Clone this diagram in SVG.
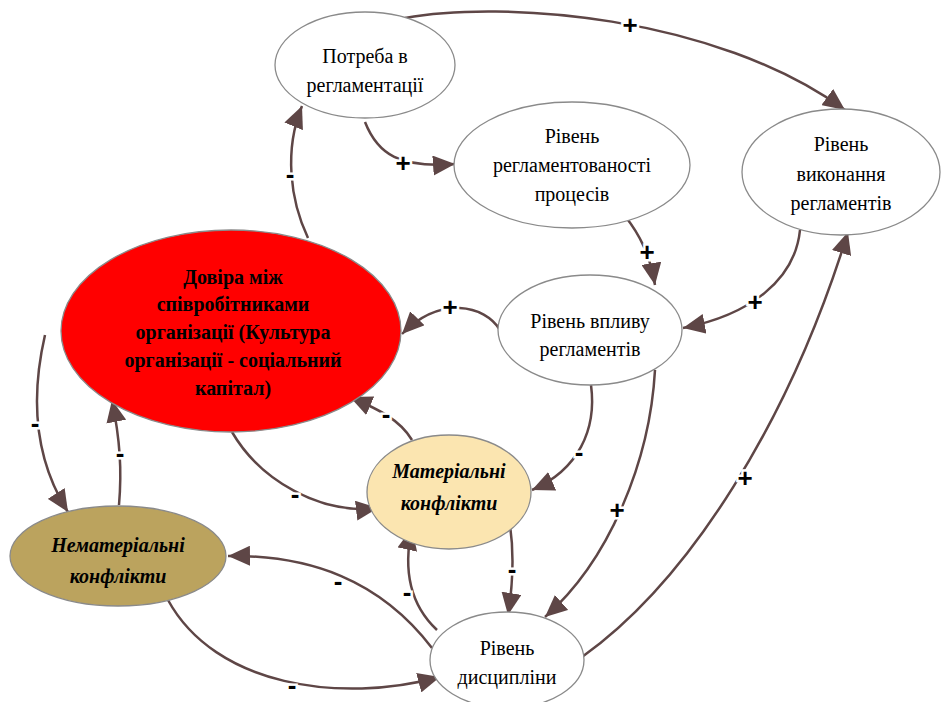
<svg xmlns="http://www.w3.org/2000/svg" width="942" height="702" viewBox="0 0 942 702">
  <defs>
    <marker id="arrow" markerUnits="userSpaceOnUse" markerWidth="24" markerHeight="20" refX="22" refY="10" orient="auto">
      <path d="M0,0 L22,10 L0,20 z" fill="#5e4646"/>
    </marker>
    <style>
      .node { stroke: #8a8a8a; stroke-width: 1.3; }
      .t { font-family: "Liberation Serif", "Times New Roman", serif; font-size: 20px; fill: #000; text-anchor: middle; }
      .tb { font-weight: bold; }
      .tbi { font-weight: bold; font-style: italic; }
      .edge { fill: none; stroke: #5e4646; stroke-width: 2.5; marker-end: url(#arrow); }
      .lbl { font-family: "Liberation Sans", Arial, sans-serif; font-size: 26px; font-weight: bold; fill: #000; text-anchor: middle; stroke: #fff; stroke-width: 5; paint-order: stroke; }
    </style>
  </defs>
  <rect width="942" height="702" fill="#fff"/>

  <g id="connectors">
    <path class="edge" d="M405,18 C500,0 715,15 845,110"/>
    <path class="edge" d="M365,122 C378,155 400,168 455,164"/>
    <path class="edge" d="M308,238 C290,200 284,150 302,106"/>
    <path class="edge" d="M625,216 C640,235 650,255 655,285"/>
    <path class="edge" d="M800,230 C795,280 750,315 683,328"/>
    <path class="edge" d="M500,330 C485,305 440,295 402,334"/>
    <path class="edge" d="M591,385 C597,430 578,470 532,490"/>
    <path class="edge" d="M655,370 C650,460 610,560 545,617"/>
    <path class="edge" d="M582,657 C690,580 790,420 848,232"/>
    <path class="edge" d="M45,335 C30,400 35,460 68,512"/>
    <path class="edge" d="M119,505 C122,470 120,440 112,400"/>
    <path class="edge" d="M232,432 C260,480 320,515 378,508"/>
    <path class="edge" d="M412,440 C400,420 380,410 350,397"/>
    <path class="edge" d="M510,525 C515,560 512,590 508,615"/>
    <path class="edge" d="M437,630 C405,600 405,560 412,528"/>
    <path class="edge" d="M432,648 C380,580 310,555 228,556"/>
    <path class="edge" d="M168,600 C215,686 340,704 440,677"/>

    <text class="lbl" x="630" y="34">+</text>
    <text class="lbl" x="403" y="172">+</text>
    <text class="lbl" x="290" y="183">-</text>
    <text class="lbl" x="647" y="261">+</text>
    <text class="lbl" x="755" y="311">+</text>
    <text class="lbl" x="450" y="316">+</text>
    <text class="lbl" x="579" y="461">-</text>
    <text class="lbl" x="617" y="519">+</text>
    <text class="lbl" x="745" y="487">+</text>
    <text class="lbl" x="35" y="432">-</text>
    <text class="lbl" x="120" y="462">-</text>
    <text class="lbl" x="295" y="503">-</text>
    <text class="lbl" x="386" y="423">-</text>
    <text class="lbl" x="512" y="578">-</text>
    <text class="lbl" x="407" y="601">-</text>
    <text class="lbl" x="338" y="590">-</text>
    <text class="lbl" x="292" y="694">-</text>
  </g>

  <g id="need">
    <ellipse class="node" cx="365" cy="65" rx="90" ry="53" fill="#fff"/>
    <text class="t" x="365" y="63">Потреба в</text>
    <text class="t" x="365" y="92">регламентації</text>
  </g>

  <g id="regulation-level">
    <ellipse class="node" cx="572" cy="165" rx="118" ry="63" fill="#fff"/>
    <text class="t" x="572" y="143">Рівень</text>
    <text class="t" x="572" y="172">регламентованості</text>
    <text class="t" x="572" y="201">процесів</text>
  </g>

  <g id="compliance-level">
    <ellipse class="node" cx="841" cy="172" rx="99" ry="63" fill="#fff"/>
    <text class="t" x="841" y="151">Рівень</text>
    <text class="t" x="841" y="181">виконання</text>
    <text class="t" x="841" y="210">регламентів</text>
  </g>

  <g id="influence-level">
    <ellipse class="node" cx="590" cy="330" rx="92" ry="55" fill="#fff"/>
    <text class="t" x="590" y="328">Рівень впливу</text>
    <text class="t" x="590" y="356">регламентів</text>
  </g>

  <g id="trust">
    <ellipse class="node" cx="231" cy="331" rx="170" ry="101" fill="#ff0000"/>
    <text class="t tb" x="233" y="284">Довіра між</text>
    <text class="t tb" x="233" y="311">співробітниками</text>
    <text class="t tb" x="233" y="339">організації (Культура</text>
    <text class="t tb" x="233" y="367">організації  - соціальний</text>
    <text class="t tb" x="233" y="395">капітал)</text>
  </g>

  <g id="material-conflicts">
    <ellipse class="node" cx="449" cy="492" rx="82" ry="57" fill="#fbe5b0"/>
    <text class="t tbi" x="449" y="478">Матеріальні</text>
    <text class="t tbi" x="449" y="510">конфлікти</text>
  </g>

  <g id="nonmaterial-conflicts">
    <ellipse class="node" cx="118" cy="556" rx="108" ry="50" fill="#bba35e"/>
    <text class="t tbi" x="118" y="552">Нематеріальні</text>
    <text class="t tbi" x="118" y="583">конфлікти</text>
  </g>

  <g id="discipline">
    <ellipse class="node" cx="507" cy="660" rx="77" ry="48" fill="#fff"/>
    <text class="t" x="507" y="655">Рівень</text>
    <text class="t" x="507" y="684">дисципліни</text>
  </g>
</svg>
